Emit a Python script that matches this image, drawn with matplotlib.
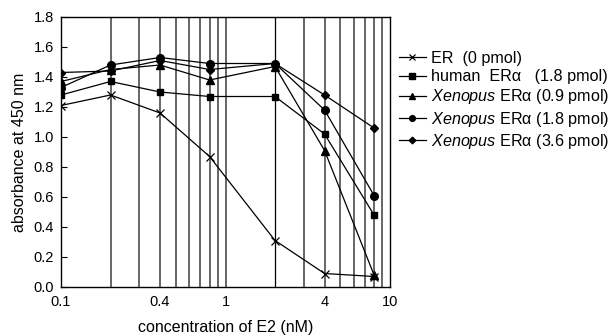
import numpy as np
import matplotlib
matplotlib.use('Agg')
import matplotlib.pyplot as plt

plt.rcParams['font.family'] = 'Liberation Sans'
plt.rcParams['mathtext.fontset'] = 'custom'
plt.rcParams['mathtext.rm'] = 'Liberation Sans'
plt.rcParams['mathtext.it'] = 'Liberation Sans:italic'

# concentration of E2 (nM)
conc = [0.1, 0.2, 0.4, 0.8, 2, 4, 8]

er_0 = [1.21, 1.28, 1.16, 0.87, 0.31, 0.09, 0.07]
human_18 = [1.28, 1.37, 1.30, 1.27, 1.27, 1.02, 0.48]
xen_09 = [1.37, 1.45, 1.48, 1.38, 1.47, 0.91, 0.08]
xen_18 = [1.33, 1.48, 1.53, 1.49, 1.49, 1.18, 0.61]
xen_36 = [1.43, 1.44, 1.51, 1.45, 1.49, 1.28, 1.06]

labels = ['ER  (0 pmol)',
          'human  ERα   (1.8 pmol)',
          r'$\it{Xenopus}$ ERα (0.9 pmol)',
          r'$\it{Xenopus}$ ERα (1.8 pmol)',
          r'$\it{Xenopus}$ ERα (3.6 pmol)']

fig = plt.figure(figsize=(6.13, 3.36), dpi=100)
ax = fig.add_axes([61/613, 1 - 287/336, (390-61)/613, (287-17)/336])

# vertical grid lines
for g in [0.2, 0.3, 0.4, 0.5, 0.6, 0.7, 0.8, 0.9, 1, 3, 4, 5, 6, 7, 8, 9]:
    ax.axvline(g, color='#5a5a5a', lw=1.3, zorder=0)
ax.axvline(2, color='black', lw=0.9, zorder=0)

lw = 0.9
ax.plot(conc, er_0, color='black', lw=lw, marker='x', ms=6, mew=0.9, label=labels[0])
ax.plot(conc, human_18, color='black', lw=lw, marker='s', ms=5, label=labels[1])
ax.plot(conc, xen_09, color='black', lw=lw, marker='^', ms=5.5, label=labels[2])
ax.plot(conc, xen_18, color='black', lw=lw, marker='o', ms=5.5, label=labels[3])
ax.plot(conc, xen_36, color='black', lw=lw, marker='D', ms=4.5, label=labels[4])

ax.set_xscale('log')
ax.set_xlim(0.1, 10)
ax.set_ylim(0, 1.8)
ax.set_xticks([0.1, 0.4, 1, 4, 10])
ax.set_xticklabels(['0.1', '0.4', '1', '4', '10'])
ax.xaxis.set_minor_locator(matplotlib.ticker.NullLocator())
ax.set_yticks(np.arange(0, 1.81, 0.2))
ax.set_yticklabels(['%.1f' % v for v in np.arange(0, 1.81, 0.2)])
ax.tick_params(axis='y', direction='in', length=4, labelsize=10.5, pad=5)
ax.tick_params(axis='x', length=0, labelsize=10.5, pad=6)
for s in ax.spines.values():
    s.set_linewidth(1.0)

ax.set_xlabel('concentration of E2 (nM)', fontsize=11.5, labelpad=8)
ax.set_ylabel('absorbance at 450 nm', fontsize=11.5, labelpad=5)

fig.legend(loc='upper left', bbox_to_anchor=(399/613, 1 - 51/336), frameon=False,
           fontsize=11.6, handlelength=1.65, handletextpad=0.35, labelspacing=0.2,
           markerscale=0.75, borderaxespad=0, borderpad=0)

plt.savefig('out.png', dpi=100)
